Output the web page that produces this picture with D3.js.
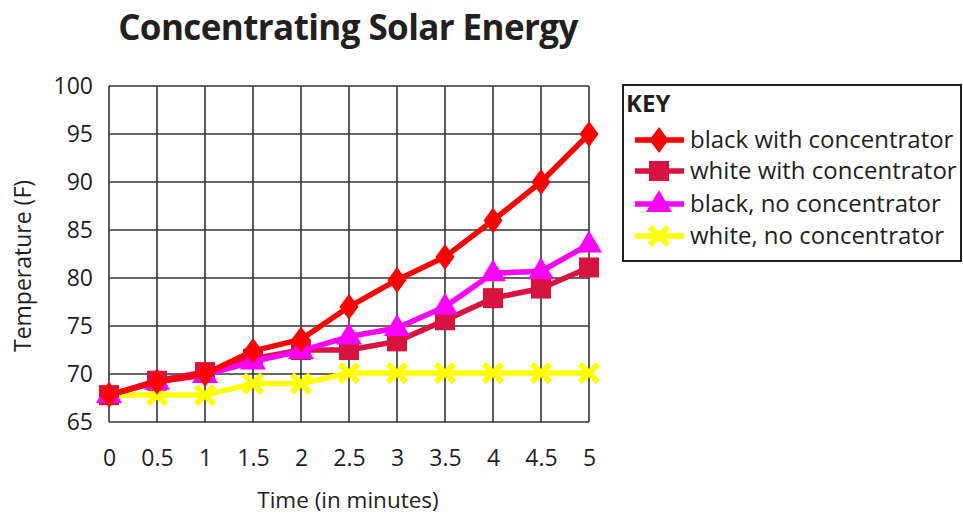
<!DOCTYPE html>
<html>
<head>
<meta charset="utf-8">
<script src="https://cdn.jsdelivr.net/npm/d3@7"></script>
<style>
  body { margin: 0; background: #fff; }
  svg { display: block; font-family: "Open Sans", "DejaVu Sans", sans-serif; }
</style>
</head>
<body>
<svg id="chart" width="963" height="517"></svg>
<script>
// Time in minutes
const times = [0, 0.5, 1, 1.5, 2, 2.5, 3, 3.5, 4, 4.5, 5];
// Temperatures (F) for each test
const blackWithConc  = [67.8, 69.2, 70.0, 72.4, 73.6, 77.0, 79.8, 82.2, 86.0, 90.0, 95.0];
const whiteWithConc  = [67.8, 69.3, 70.2, 71.6, 72.5, 72.5, 73.4, 75.6, 77.9, 78.9, 81.1];
const blackNoConc    = [67.8, 69.2, 69.9, 71.3, 72.4, 73.9, 74.8, 77.0, 80.5, 80.7, 83.5];
const whiteNoConc    = [67.8, 67.8, 67.8, 69.0, 69.0, 70.1, 70.1, 70.1, 70.1, 70.1, 70.1];
const xTicks = [0, 0.5, 1, 1.5, 2, 2.5, 3, 3.5, 4, 4.5, 5];
const yTicks = [65, 70, 75, 80, 85, 90, 95, 100];

const seriesNames = ["black with concentrator", "white with concentrator", "black, no concentrator", "white, no concentrator"];
const seriesValues = [blackWithConc, whiteWithConc, blackNoConc, whiteNoConc];
const seriesColors = ["#ff0000", "#d81340", "#ff00ff", "#ffff00"];
const seriesMarkers = ["diamond", "square", "triangle", "cross"];

const ink = "#231f20";
const svg = d3.select("#chart");
const x = d3.scaleLinear().domain([0, 5]).range([109, 589]);
const y = d3.scaleLinear().domain([65, 100]).range([422, 86]);

// Title
svg.append("text").attr("x", 348).attr("y", 40).attr("text-anchor", "middle")
  .attr("font-size", 35).attr("font-weight", 700).attr("fill", ink)
  .attr("letter-spacing", -0.6)
  .text("Concentrating Solar Energy");

// Grid
const grid = svg.append("g").attr("stroke", "#333").attr("stroke-width", 1.6);
xTicks.forEach(t => grid.append("line").attr("x1", x(t)).attr("x2", x(t)).attr("y1", y(65)).attr("y2", y(100)));
yTicks.forEach(t => grid.append("line").attr("x1", x(0)).attr("x2", x(5)).attr("y1", y(t)).attr("y2", y(t)));

// Axes (labels only; grid draws the lines)
const yAxis = svg.append("g").attr("transform", `translate(${x(0)},0)`)
  .call(d3.axisLeft(y).tickValues(yTicks).tickSize(0).tickPadding(16));
const xAxis = svg.append("g").attr("transform", `translate(0,${y(65)})`)
  .call(d3.axisBottom(x).tickValues(xTicks).tickSize(0).tickPadding(28)
    .tickFormat(d => String(d)));
[xAxis, yAxis].forEach(a => {
  a.select(".domain").remove();
  a.selectAll("text").attr("font-size", 23).attr("fill", ink)
    .attr("font-family", "'Open Sans', sans-serif");
});

// Axis titles
svg.append("text").attr("x", 348).attr("y", 508).attr("text-anchor", "middle")
  .attr("font-size", 22.5).attr("fill", ink).text("Time (in minutes)");
svg.append("text").attr("transform", "translate(31,266) rotate(-90)")
  .attr("text-anchor", "middle").attr("font-size", 23).attr("fill", ink)
  .text("Temperature (F)");

// Marker drawing
function drawMarker(g, type, color, cx, cy) {
  if (type === "diamond") {
    g.append("path").attr("d", `M${cx},${cy-13} L${cx+9.5},${cy} L${cx},${cy+13} L${cx-9.5},${cy} Z`).attr("fill", color);
  } else if (type === "square") {
    g.append("rect").attr("x", cx-10).attr("y", cy-10).attr("width", 20).attr("height", 20).attr("fill", color);
  } else if (type === "triangle") {
    g.append("path").attr("d", `M${cx},${cy-14} L${cx+13},${cy+8} L${cx-13},${cy+8} Z`).attr("fill", color);
  } else {
    g.append("path").attr("d", `M${cx-9},${cy-9} L${cx+9},${cy+9} M${cx+9},${cy-9} L${cx-9},${cy+9}`)
      .attr("stroke", color).attr("stroke-width", 6).attr("fill", "none");
  }
}

const line = d3.line().x((d, i) => x(times[i])).y(d => y(d));

// Draw series: the flat "white, no concentrator" goes underneath
const order = [3, 1, 2, 0];
order.forEach(s => {
  const g = svg.append("g");
  g.append("path").datum(seriesValues[s]).attr("d", line)
    .attr("fill", "none").attr("stroke", seriesColors[s]).attr("stroke-width", 5.5)
    .attr("stroke-linejoin", "round");
  seriesValues[s].forEach((v, i) => drawMarker(g, seriesMarkers[s], seriesColors[s], x(times[i]), y(v)));
});

// Legend
const lg = svg.append("g");
lg.append("rect").attr("x", 623).attr("y", 85).attr("width", 338).attr("height", 176)
  .attr("fill", "#fff").attr("stroke", ink).attr("stroke-width", 2);
lg.append("text").attr("x", 626).attr("y", 112).attr("font-size", 24).attr("font-weight", 700)
  .attr("fill", ink).text("KEY");
const rowY = [140, 171, 204, 236];
seriesNames.forEach((name, s) => {
  const ry = rowY[s];
  lg.append("line").attr("x1", 635).attr("x2", 684).attr("y1", ry).attr("y2", ry)
    .attr("stroke", seriesColors[s]).attr("stroke-width", 5.5);
  drawMarker(lg, seriesMarkers[s], seriesColors[s], 659, ry);
  lg.append("text").attr("x", 690).attr("y", ry + 8).attr("font-size", 24)
    .attr("fill", ink).text(name);
});
</script>
</body>
</html>
